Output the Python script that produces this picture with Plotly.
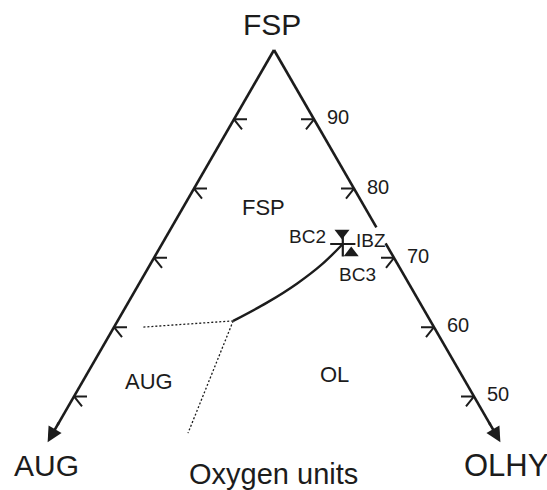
import math
import plotly.graph_objects as go

# ---------------- data (ternary %, FSP + AUG + OLHY = 100) ----------------
fsp_ticks = [50, 60, 70, 80, 90]
tick_labels = ["50", "60", "70", "80", "90"]

edge_top = 100.0          # apex (FSP = 100)
edge_end = 43.4           # FSP value at the arrow tips
gap_fsp = [74.4, 72.1]    # break in the right edge around IBZ

cot_fsp = [60.9, 63.57, 66.31, 69.13, 72.0]
cot_olhy = [14.45, 17.39, 19.75, 21.49, 22.6]

aug_bnd_fsp = [60.9, 60.0]
aug_bnd_olhy = [14.45, 3.6]
ol_bnd_fsp = [60.9, 44.7]
ol_bnd_olhy = [14.45, 16.9]

sample_names = ["BC2", "IBZ", "BC3"]
sample_fsp = [73.6, 72.0, 70.7]
sample_olhy = [21.7, 22.6, 24.3]
sample_symbols = ["triangle-down", "cross-thin", "triangle-up"]

field_names = ["FSP", "AUG", "OL"]
field_fsp = [77.33, 52.1, 53.1]
field_olhy = [10.08, 8.35, 31.0]

# ---------------- geometry helpers ----------------
S = 8.0                     # pixels per cartesian unit
APX, APY = 274.0, 50.0      # apex pixel
H = 100 * math.sqrt(3) / 2
INK = "#1c1c1c"
FONT = "Liberation Sans, Arial, sans-serif"


def tern(f, o):
    return o + f / 2.0, f * math.sqrt(3) / 2.0


def px2d(px, py):
    return 50 + (px - APX) / S, H - (py - APY) / S


def left_edge(f):
    return tern(f, 0.0)


def right_edge(f):
    return tern(f, 100.0 - f)


fig = go.Figure()

# triangle edges
lx = [left_edge(edge_top)[0], left_edge(edge_end + 2.5)[0]]
ly = [left_edge(edge_top)[1], left_edge(edge_end + 2.5)[1]]
rx = [right_edge(edge_top)[0], right_edge(gap_fsp[0])[0], None,
      right_edge(gap_fsp[1])[0], right_edge(edge_end + 2.5)[0]]
ry = [right_edge(edge_top)[1], right_edge(gap_fsp[0])[1], None,
      right_edge(gap_fsp[1])[1], right_edge(edge_end + 2.5)[1]]
for xs, ys in [(lx, ly), (rx, ry)]:
    fig.add_trace(go.Scatter(x=xs, y=ys, mode="lines",
                             line=dict(color=INK, width=2.6),
                             hoverinfo="skip", showlegend=False))

# chevron ticks
tx, ty = [], []
for f in fsp_ticks:
    x0, y0 = right_edge(f)
    tx += [x0 - 13 / S, x0, x0 - 8 / S, None]
    ty += [y0, y0, y0 - 10 / S, None]
    x1, y1 = left_edge(f)
    tx += [x1 + 13 / S, x1, x1 + 8 / S, None]
    ty += [y1, y1, y1 - 10 / S, None]
fig.add_trace(go.Scatter(x=tx, y=ty, mode="lines",
                         line=dict(color=INK, width=2.0),
                         hoverinfo="skip", showlegend=False))

# tick labels (right edge)
for f, lab in zip(fsp_ticks, tick_labels):
    x0, y0 = right_edge(f)
    fig.add_annotation(x=x0, y=y0, text=lab, showarrow=False, xshift=24, yshift=2,
                       font=dict(family=FONT, size=20, color=INK))

# arrow heads at edge ends
for fn in (left_edge, right_edge):
    tipx, tipy = fn(edge_end)
    tailx, taily = fn(edge_end + 3.0)
    fig.add_annotation(x=tipx, y=tipy, ax=tailx, ay=taily, axref="x", ayref="y",
                       xref="x", yref="y", text="", showarrow=True,
                       arrowhead=2, arrowsize=1.15, arrowwidth=2.6, arrowcolor=INK,
                       standoff=0, startstandoff=0)

# boundaries
cx, cy = zip(*[tern(f, o) for f, o in zip(cot_fsp, cot_olhy)])
fig.add_trace(go.Scatter(x=cx, y=cy, mode="lines",
                         line=dict(color=INK, width=2.4, shape="spline", smoothing=1.0),
                         hoverinfo="skip", showlegend=False))
for fs, os_ in [(aug_bnd_fsp, aug_bnd_olhy), (ol_bnd_fsp, ol_bnd_olhy)]:
    bx, by = zip(*[tern(f, o) for f, o in zip(fs, os_)])
    fig.add_trace(go.Scatter(x=bx, y=by, mode="lines", line=dict(color=INK, width=1.3, dash="2px,2px"),
                             hoverinfo="skip", showlegend=False))

# samples
for name, f, o, sym in zip(sample_names, sample_fsp, sample_olhy, sample_symbols):
    x0, y0 = tern(f, o)
    if sym == "cross-thin":
        mk = dict(symbol=sym, size=18, line=dict(color=INK, width=2.2), color=INK)
    else:
        mk = dict(symbol=sym, size=13, color=INK, line=dict(width=0))
    fig.add_trace(go.Scatter(x=[x0], y=[y0], mode="markers", marker=mk, name=name,
                             showlegend=False))

sample_label_px = {"BC2": (307, 236), "IBZ": (371, 240), "BC3": (357, 274)}
for name in sample_names:
    x0, y0 = px2d(*sample_label_px[name])
    fig.add_annotation(x=x0, y=y0, text=name, showarrow=False,
                       font=dict(family=FONT, size=19, color=INK))

# field labels
for name, f, o in zip(field_names, field_fsp, field_olhy):
    x0, y0 = tern(f, o)
    fig.add_annotation(x=x0, y=y0, text=name, showarrow=False,
                       font=dict(family=FONT, size=22, color=INK))

# corner labels and title
for txt, pos, size in [("FSP", (272, 24), 30), ("AUG", (46, 465), 30),
                       ("OLHY", (506, 465), 31), ("Oxygen units", (273, 474), 29)]:
    x0, y0 = px2d(*pos)
    fig.add_annotation(x=x0, y=y0, text=txt, showarrow=False,
                       font=dict(family=FONT, size=size, color=INK))

fig.update_layout(
    width=547, height=490, margin=dict(l=0, r=0, t=0, b=0),
    paper_bgcolor="white", plot_bgcolor="white",
    xaxis=dict(range=[50 - APX / S, 50 + (547 - APX) / S], visible=False, fixedrange=True),
    yaxis=dict(range=[H - (490 - APY) / S, H + APY / S], visible=False, fixedrange=True),
)
fig.write_html("out.html")
